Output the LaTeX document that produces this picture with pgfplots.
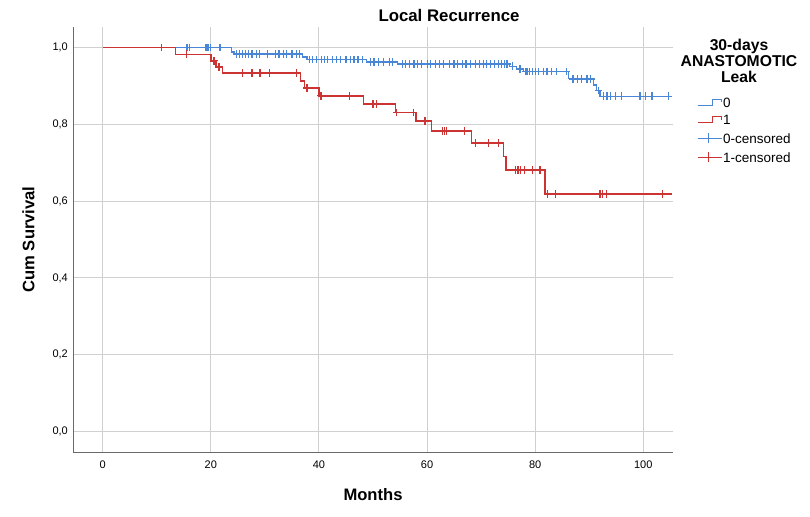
\documentclass[border=0pt]{standalone}
\usepackage{fontspec}
\setmainfont{Liberation Sans}
\usepackage{pgfplots}
\pgfplotsset{compat=1.18}
\definecolor{cblue}{RGB}{74,134,214}
\definecolor{cred}{RGB}{204,52,52}
\definecolor{cgrid}{RGB}{208,208,208}
\definecolor{caxis}{RGB}{105,105,105}
\pgfplotsset{
 steplegend/.style={legend image code/.code={\draw[##1, mark=none] (0bp,-1bp) -- (15bp,-1bp) -- (15bp,5bp) -- (24bp,5bp) -- (24bp,2bp);}},
 censlegend/.style={legend image code/.code={\draw[##1, mark=none] (0bp,2bp) -- (24bp,2bp); \draw[##1, mark=none] (11bp,-3bp) -- (11bp,7bp);}},
}
\begin{document}
\begin{tikzpicture}
\path[use as bounding box, fill=white] (0,0) rectangle (810bp,517bp);
\begin{axis}[
 at={(73bp,65bp)}, anchor=south west,
 scale only axis, width=600bp, height=425bp,
 xmin=-5.5, xmax=105.5, ymin=-0.053, ymax=1.053,
 axis x line*=bottom, axis y line*=left,
 axis line style={-, draw=caxis, line width=1bp},
 xtick={0,20,40,60,80,100}, ytick={0,0.2,0.4,0.6,0.8,1.0},
 grid=major, major grid style={draw=cgrid, line width=0.9bp},
 major tick length=0pt,
 /pgf/number format/assume math mode=true,
 every tick label/.append style={font=\fontsize{11bp}{13bp}\selectfont},
 xticklabel style={anchor=north, inner sep=0pt, yshift=-9bp},
 yticklabel style={anchor=east, inner sep=0pt, xshift=-5bp, /pgf/number format/.cd, fixed, fixed zerofill, precision=1, use comma},
 xlabel={Months}, ylabel={Cum Survival},
 xlabel style={at={(axis description cs:0.5,0)}, yshift=-43bp, anchor=center, font=\bfseries\fontsize{16.6bp}{18bp}\selectfont},
 ylabel style={at={(axis description cs:0,0.5)}, yshift=44.5bp, anchor=center, font=\bfseries\fontsize{16.6bp}{18bp}\selectfont},
 legend style={at={(1.04,0.8344)}, anchor=north west, draw=none, fill=none, inner sep=0pt, row sep=4.7bp, column sep=1bp, font=\fontsize{13.5bp}{15bp}\selectfont, nodes={inner sep=0pt, text height=9.5bp, text depth=3.5bp}},
 legend cell align=left,
]
% group 0
\addplot[const plot, cblue, line width=1.25bp, mark=none, forget plot] coordinates {
(0,1.000) (23.8,0.988) (24.3,0.983) (37.0,0.975) (37.8,0.968) (48.8,0.962) (54.6,0.957) (75.3,0.951) (76.6,0.944) (77.8,0.937) (86.2,0.918) (90.8,0.902) (91.4,0.888) (92.0,0.873) (105.3,0.873)};
\addplot[only marks, mark=+, mark size=3.8bp, cblue, mark options={line width=1.3bp}, forget plot] coordinates {
(10.9,1.000) (15.6,1.000) (16.1,1.000) (19.1,1.000) (19.5,1.000) (19.9,1.000) (21.7,1.000)
(24.8,0.983) (25.3,0.983) (25.8,0.983) (26.4,0.983) (27.0,0.983) (27.6,0.983) (28.4,0.983) (29.0,0.983) (30.5,0.983) (32.0,0.983) (32.6,0.983) (33.4,0.983) (34.0,0.983) (35.0,0.983) (35.9,0.983) (36.4,0.983)
(38.3,0.968) (38.8,0.968) (39.5,0.968) (40.5,0.968) (41.0,0.968) (41.6,0.968) (42.5,0.968) (43.3,0.968) (44.0,0.968) (45.0,0.968) (45.8,0.968) (46.5,0.968) (47.2,0.968) (48.0,0.968)
(49.5,0.962) (50.2,0.962) (51.0,0.962) (52.0,0.962) (53.0,0.962) (53.6,0.962)
(55.5,0.957) (56.0,0.957) (56.8,0.957) (57.6,0.957) (58.2,0.957) (59.0,0.957) (60.1,0.957) (60.6,0.957) (61.5,0.957) (62.3,0.957) (63.0,0.957) (64.1,0.957) (65.0,0.957) (65.6,0.957) (66.5,0.957) (67.2,0.957) (68.0,0.957) (69.0,0.957) (69.7,0.957) (70.4,0.957) (71.0,0.957) (71.7,0.957) (72.5,0.957) (73.2,0.957) (73.8,0.957) (74.3,0.957) (74.8,0.957)
(75.8,0.951) (77.2,0.944)
(78.3,0.937) (78.6,0.937) (79.0,0.937) (79.5,0.937) (80.0,0.937) (80.6,0.937) (81.5,0.937) (82.2,0.937) (83.0,0.937) (84.0,0.937) (85.8,0.937)
(87.0,0.918) (87.8,0.918) (88.6,0.918) (89.6,0.918) (90.3,0.918)
(91.7,0.888)
(92.6,0.873) (93.3,0.873) (93.9,0.873) (94.8,0.873) (96.0,0.873) (99.4,0.873) (100.4,0.873) (101.6,0.873) (104.7,0.873)};
% group 1
\addplot[const plot, cred, line width=1.5bp, mark=none, forget plot] coordinates {
(0,1.000) (13.5,0.982) (20.0,0.965) (21.0,0.949) (22.2,0.933) (36.6,0.913) (37.3,0.894) (40.0,0.874) (48.2,0.853) (54.2,0.831) (58.0,0.808) (60.8,0.782) (68.2,0.751) (74.1,0.716) (74.6,0.681) (81.8,0.618) (105.3,0.618)};
\addplot[only marks, mark=+, mark size=3.8bp, cred, mark options={line width=1.3bp}, forget plot] coordinates {
(10.9,1.000) (15.5,0.982) (20.6,0.965) (21.5,0.949) (25.9,0.933) (27.6,0.933) (29.1,0.933) (30.9,0.933) (35.9,0.933) (37.8,0.894) (40.4,0.874) (45.6,0.874) (50.0,0.853) (50.7,0.853) (54.4,0.831) (57.5,0.831) (59.6,0.808) (62.8,0.782) (63.2,0.782) (63.6,0.782) (66.9,0.782) (69.0,0.751) (71.4,0.751) (73.2,0.751) (76.3,0.681) (76.8,0.681) (77.3,0.681) (78.0,0.681) (79.5,0.681) (80.9,0.681) (82.3,0.618) (83.7,0.618) (92.0,0.618) (92.5,0.618) (93.2,0.618) (103.5,0.618)};
\addlegendimage{steplegend, cblue, line width=1bp}
\addlegendentry{0}
\addlegendimage{steplegend, cred, line width=1bp}
\addlegendentry{1}
\addlegendimage{censlegend, cblue, line width=1bp}
\addlegendentry{0-censored}
\addlegendimage{censlegend, cred, line width=1bp}
\addlegendentry{1-censored}
\end{axis}
\node[font=\bfseries\fontsize{16.8bp}{18bp}\selectfont, anchor=base, inner sep=0pt] at (449bp,495.3bp) {Local Recurrence};
\node[font=\bfseries\fontsize{15.7bp}{16.3bp}\selectfont, align=center, anchor=north, inner sep=0pt] at (739bp,478.5bp) {30-days\\ANASTOMOTIC\\Leak};
\end{tikzpicture}
\end{document}
